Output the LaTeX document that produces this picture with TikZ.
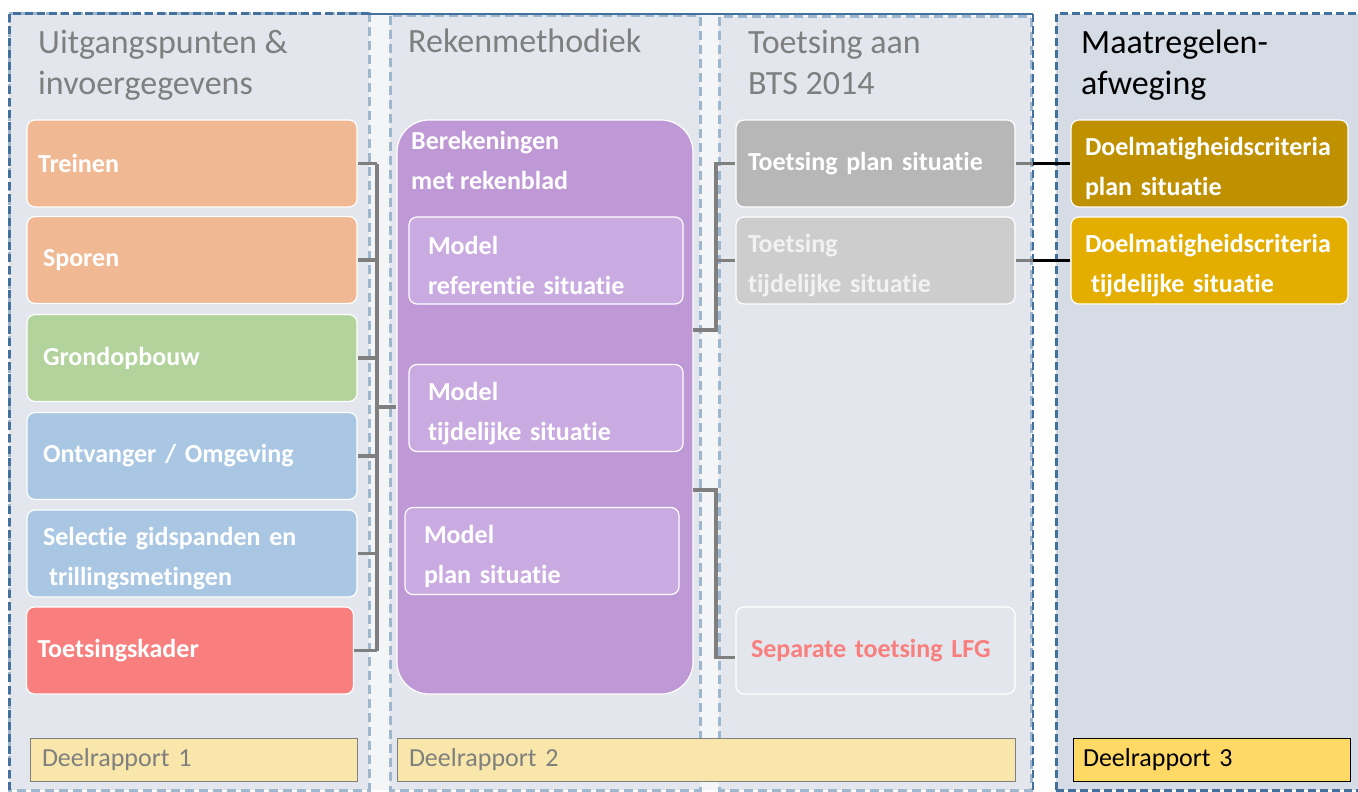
\documentclass[tikz,border=0pt]{standalone}
\usepackage{fontspec}
\setmainfont{Carlito}[Ligatures=NoCommon]
\usetikzlibrary{calc}
\definecolor{panelfill}{HTML}{E3E7ED}
\definecolor{gapfill}{HTML}{F4F5F7}
\definecolor{pfourfill}{HTML}{D6DCE5}
\definecolor{darkblue}{HTML}{41719C}
\definecolor{lightblue}{HTML}{9DB7CE}
\definecolor{peach}{HTML}{F0B994}
\definecolor{softgreen}{HTML}{B3D39C}
\definecolor{softblue}{HTML}{A9C7E3}
\definecolor{softred}{HTML}{F87F7E}
\definecolor{purplebig}{HTML}{BF98D6}
\definecolor{purplein}{HTML}{CAABE1}
\definecolor{grayone}{HTML}{B7B7B7}
\definecolor{graytwo}{HTML}{CDCDCD}
\definecolor{golddark}{HTML}{BF9000}
\definecolor{goldmid}{HTML}{E3AE00}
\definecolor{deellight}{HTML}{F9E6AA}
\definecolor{deeldark}{HTML}{FFD966}
\definecolor{titlegray}{HTML}{7F7F7F}
\definecolor{conngray}{HTML}{7F7F7F}
\definecolor{lighttext}{HTML}{F2F2F2}
\begin{document}
\begin{tikzpicture}[x=1pt,y=-1pt,
  paneldash/.style={draw=lightblue, line width=3pt, dash pattern=on 9pt off 5pt},
  framedash/.style={draw=darkblue, line width=3pt, dash pattern=on 8pt off 4pt},
  titletext/.style={anchor=north west, inner sep=0pt, align=left, text=titlegray, font={\fontsize{34}{41}\selectfont}},
  box/.style={draw=white, line width=1.2pt, rounded corners=8pt, minimum height=87pt, inner ysep=0pt, text=white, align=left, font={\fontsize{26}{40}\selectfont\bfseries}},
  twoline/.style={execute at begin node={\rule{0pt}{29pt}}},
  deel/.style={draw=titlegray, line width=1pt, minimum height=43pt, inner ysep=0pt, text=titlegray, align=left, font={\fontsize{26}{30}\selectfont}},
  conn/.style={draw=conngray, line width=3.5pt},
  blackconn/.style={draw=black, line width=3.5pt}
]
\useasboundingbox (0,0) rectangle (1358,792);
\fill[white] (0,0) rectangle (1358,792);
% backgrounds
\fill[gapfill] (9,14) rectangle (1033,790);
\fill[panelfill] (9,14) rectangle (369,790);
\fill[panelfill] (390,14) rectangle (700,790);
\fill[panelfill] (719,17) rectangle (1031,790);
\draw[paneldash] (9,14) rectangle (369,790);
\draw[paneldash] (390,16) rectangle (700,790);
\draw[paneldash] (719,17) rectangle (1031,790);
\draw[darkblue, line width=1.2pt] (369,14) -- (1033,14);
\draw[framedash] (9,790) -- (9,14) -- (369,14);
\draw[framedash, line width=2.2pt] (1033,14) -- (1033,790);
\fill[pfourfill] (1056,14) rectangle (1372,790);
\draw[framedash] (1056,790) -- (1056,14) -- (1372,14);
\draw[framedash] (1056,790) -- (1372,790);

% titles
\node[titletext] (t1) at (38,30) {Uitgangspunten \&\\invoergegevens};
\node[titletext] (t2) at (408,29) {Rekenmethodiek};
\node[titletext] (t3) at (748,30) {Toetsing aan\\BTS 2014};
\node[titletext, text=black] (t4) at (1081,30) {Maatregelen-\\afweging};

% left column
\node[box, fill=peach, text width=308pt, inner xsep=11pt] (treinen) at (192,163.5) {Treinen};
\node[box, fill=peach, text width=298pt, inner xsep=16pt] (sporen) at (192,260) {Sporen};
\node[box, fill=softgreen, text width=298pt, inner xsep=16pt] (grond) at (192,358) {Grondopbouw};
\node[box, fill=softblue, text width=298pt, inner xsep=16pt] (ontv) at (192,456) {Ontvanger / Omgeving};
\node[box, twoline, fill=softblue, text width=298pt, inner xsep=16pt] (selectie) at (192,553.5) {Selectie gidspanden en\\\hspace*{6pt}trillingsmetingen};
\node[box, fill=softred, text width=305pt, inner xsep=11pt] (toetskader) at (190,650.5) {Toetsingskader};

% middle column
\node[draw=white, line width=1.2pt, fill=purplebig, rounded corners=32pt, minimum width=296pt, minimum height=574pt, inner sep=0pt] (reken) at (545,407) {};
\node[anchor=north west, inner sep=0pt, align=left, text=white, font={\fontsize{26}{40}\selectfont\bfseries}] (rekentxt) at (411,131) {Berekeningen\\met rekenblad};
\node[box, twoline, fill=purplein, text width=236pt, inner xsep=19pt] (modref) at (546,260.5) {Model\\referentie situatie};
\node[box, twoline, fill=purplein, text width=236pt, inner xsep=19pt] (modtij) at (546,408) {Model\\tijdelijke situatie};
\node[box, twoline, fill=purplein, text width=236pt, inner xsep=19pt] (modplan) at (542,551) {Model\\plan situatie};

% right column (Toetsing)
\node[box, fill=grayone, text width=255pt, inner xsep=12pt] (toetsplan) at (875.5,163.5) {Toetsing plan situatie};
\node[box, twoline, fill=graytwo, text=lighttext, text width=255pt, inner xsep=12pt] (toetstij) at (875.5,260.5) {Toetsing\\tijdelijke situatie};
\node[box, fill=panelfill, text=softred, text width=249pt, inner xsep=15pt] (separate) at (875.5,650.5) {Separate toetsing LFG};

% Maatregelen column
\node[box, twoline, fill=golddark, text width=249pt, inner xsep=14pt] (doelplan) at (1209.5,163.5) {Doelmatigheidscriteria\\plan situatie};
\node[box, twoline, fill=goldmid, text width=249pt, inner xsep=14pt] (doeltij) at (1209.5,260.5) {Doelmatigheidscriteria\\\hspace*{6pt}tijdelijke situatie};

% Deelrapport
\node[deel, fill=deellight, text width=303pt, inner xsep=12pt] (d1) at (193.5,759.5) {Deelrapport 1};
\node[deel, fill=deellight, text width=594pt, inner xsep=12pt] (d2) at (706,759.5) {Deelrapport 2};
\node[deel, draw=black, text=black, fill=deeldark, text width=257pt, inner xsep=10pt] (d3) at (1211.5,759.5) {Deelrapport 3};

% connectors left
\coordinate (busL) at (377,0);
\foreach \n in {treinen,sporen,grond,ontv,selectie,toetskader}
  \draw[conn] (\n.east) -- (\n.east -| busL);
\draw[conn] (treinen.east -| busL) -- (toetskader.east -| busL);
\draw[conn] (reken.west -| busL) -- (reken.west);

% connectors right of reken
\coordinate (busR) at (716,0);
\coordinate (rout1) at (693,330);
\coordinate (rout2) at (693,490);
\coordinate (sepin) at ($(separate.west)+(0,7)$);
\draw[conn] (rout1) -| (busR |- toetsplan.west) -- (toetsplan.west);
\draw[conn] (toetstij.west -| busR) -- (toetstij.west);
\draw[conn] (rout2) -| (busR |- sepin) -- (sepin);

% connectors to Maatregelen
\coordinate (frameR) at (1033,0);
\draw[conn] (toetsplan.east) -- (toetsplan.east -| frameR);
\draw[blackconn] (toetsplan.east -| frameR) -- (doelplan.west);
\draw[conn] (toetstij.east) -- (toetstij.east -| frameR);
\draw[blackconn] (toetstij.east -| frameR) -- (doeltij.west);
\end{tikzpicture}
\end{document}
